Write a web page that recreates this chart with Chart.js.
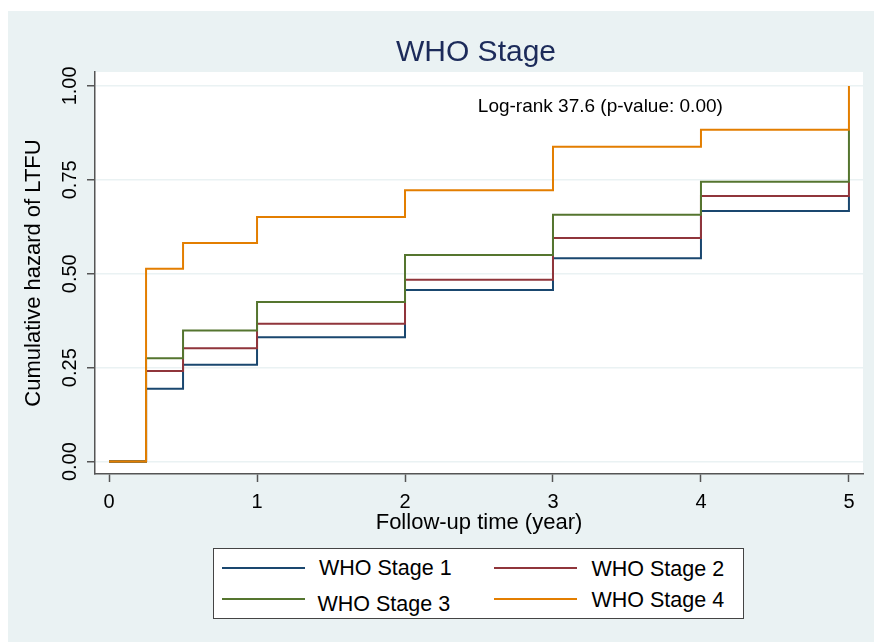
<!DOCTYPE html>
<html>
<head>
<meta charset="utf-8">
<script src="https://cdn.jsdelivr.net/npm/chart.js@4.4.1/dist/chart.umd.min.js"></script>
<style>
  html, body { margin: 0; padding: 0; background: #fff; }
  #wrap { position: relative; width: 874px; height: 642px; font-family: 'Liberation Sans', Arial, sans-serif; }
  #chart { position: absolute; left: 0; top: 0; }
  #title { position: absolute; left: 92px; width: 768px; top: 36px; text-align: center; font-size: 30px; line-height: 30px; color: #1c2b5a; }
  #legend { position: absolute; left: 213px; top: 548px; width: 531px; height: 71px; background: #fff; border: 1.5px solid #444; box-sizing: border-box; }
  .swatch { position: absolute; height: 2px; width: 83px; }
  .label { position: absolute; font-size: 21.5px; line-height: 21px; color: #000; white-space: nowrap; }
</style>
</head>
<body>
<div id="wrap">
  <canvas id="chart" width="874" height="642"></canvas>
  <div id="title">WHO Stage</div>
  <div id="legend"></div>
</div>
<script>
// follow-up times (years) where the step functions jump
const timePoints = [0, 0.25, 0.5, 1, 2, 3, 4, 5];

// cumulative hazard of LTFU
const stage1 = [0, 0.194, 0.258, 0.331, 0.457, 0.541, 0.667, 0.707];
const stage2 = [0, 0.241, 0.302, 0.367, 0.484, 0.595, 0.707, 0.745];
const stage3 = [0, 0.275, 0.349, 0.425, 0.550, 0.657, 0.745, 0.883];
const stage4 = [0, 0.513, 0.582, 0.651, 0.722, 0.838, 0.883, 1.000];

const seriesNames = ['WHO Stage 1', 'WHO Stage 2', 'WHO Stage 3', 'WHO Stage 4'];
const seriesColors = ['#1a476f', '#90353b', '#55752f', '#e37e00'];

const xTicks = [0, 1, 2, 3, 4, 5];
const xTickLabels = ['0', '1', '2', '3', '4', '5'];
const yTicks = [0, 0.25, 0.5, 0.75, 1];
const yTickLabels = ['0.00', '0.25', '0.50', '0.75', '1.00'];

const annotationText = 'Log-rank 37.6 (p-value: 0.00)';
const annotationAt = { x: 3.32, y: 0.945 };

const toPoints = vals => timePoints.map((t, i) => ({ x: t, y: vals[i] }));

const stataBackground = {
    id: 'stataBackground',
    beforeDraw(chart) {
        const { ctx, chartArea: a } = chart;
        ctx.save();
        ctx.fillStyle = '#ffffff';
        ctx.fillRect(0, 0, chart.width, chart.height);
        ctx.fillStyle = '#eaf2f3';
        ctx.fillRect(8, 11, chart.width - 8, chart.height - 11);
        ctx.fillStyle = '#ffffff';
        ctx.fillRect(a.left, a.top, a.right - a.left, a.bottom - a.top);
        ctx.restore();
    }
};

const logRankNote = {
    id: 'logRankNote',
    afterDatasetsDraw(chart) {
        const { ctx, scales } = chart;
        ctx.save();
        ctx.font = "19px 'Liberation Sans', Arial, sans-serif";
        ctx.fillStyle = '#000';
        ctx.textAlign = 'center';
        ctx.textBaseline = 'middle';
        ctx.fillText(annotationText, scales.x.getPixelForValue(annotationAt.x), scales.y.getPixelForValue(annotationAt.y));
        ctx.restore();
    }
};

const allSeries = [stage1, stage2, stage3, stage4];

new Chart(document.getElementById('chart'), {
    type: 'line',
    data: {
        datasets: allSeries.map((vals, i) => ({
            label: seriesNames[i],
            data: toPoints(vals),
            borderColor: seriesColors[i],
            borderWidth: 2,
            pointRadius: 0,
            stepped: true,
            fill: false,
            order: allSeries.length - 1 - i
        }))
    },
    options: {
        responsive: false,
        animation: false,
        layout: { padding: { top: 72, right: 11, bottom: 104, left: 0 } },
        plugins: {
            legend: { display: false },
            tooltip: { enabled: false },
            title: { display: false }
        },
        scales: {
            x: {
                type: 'linear',
                min: -0.095,
                max: 5.095,
                afterBuildTicks: s => { s.ticks = xTicks.map(v => ({ value: v })); },
                afterFit: s => { s.height = 64; },
                ticks: {
                    color: '#000',
                    font: { family: "'Liberation Sans', Arial, sans-serif", size: 20 },
                    padding: 8,
                    maxRotation: 0,
                    callback: (v) => xTickLabels[xTicks.indexOf(v)]
                },
                grid: { drawOnChartArea: false, drawTicks: true, tickLength: 8, tickColor: '#555', tickWidth: 1.5 },
                border: { display: true, color: '#555', width: 1.5 },
                title: {
                    display: true,
                    text: 'Follow-up time (year)',
                    color: '#000',
                    font: { family: "'Liberation Sans', Arial, sans-serif", size: 22 },
                    padding: { top: 0, bottom: 2 }
                }
            },
            y: {
                type: 'linear',
                min: -0.033,
                max: 1.037,
                afterBuildTicks: s => { s.ticks = yTicks.map(v => ({ value: v })); },
                afterFit: s => { s.width = 95; },
                ticks: {
                    color: '#000',
                    font: { family: "'Liberation Sans', Arial, sans-serif", size: 20 },
                    minRotation: 90,
                    maxRotation: 90,
                    crossAlign: 'center',
                    padding: -3,
                    callback: (v) => yTickLabels[yTicks.indexOf(v)]
                },
                grid: { color: '#eaf2f3', lineWidth: 1.5, drawTicks: true, tickLength: 8, tickColor: '#555', tickWidth: 1.5 },
                border: { display: true, color: '#555', width: 1.5 },
                title: {
                    display: true,
                    text: 'Cumulative hazard of LTFU',
                    color: '#000',
                    font: { family: "'Liberation Sans', Arial, sans-serif", size: 22 },
                    padding: { top: 21, bottom: 0 }
                }
            }
        }
    },
    plugins: [stataBackground, logRankNote]
});

// boxed two-column legend
const legendSlots = [
    { sx: 8, sy: 17.5, lx: 105, ly: 9 },
    { sx: 280, sy: 17.5, lx: 377.5, ly: 9.5 },
    { sx: 8, sy: 48.5, lx: 103.5, ly: 44.5 },
    { sx: 280, sy: 48.5, lx: 377.5, ly: 40.5 }
];
const legendEl = document.getElementById('legend');
seriesNames.forEach((name, i) => {
    const slot = legendSlots[i];
    const sw = document.createElement('div');
    sw.className = 'swatch';
    sw.style.left = slot.sx + 'px';
    sw.style.top = slot.sy + 'px';
    sw.style.background = seriesColors[i];
    legendEl.appendChild(sw);
    const lb = document.createElement('div');
    lb.className = 'label';
    lb.style.left = slot.lx + 'px';
    lb.style.top = slot.ly + 'px';
    lb.textContent = name;
    legendEl.appendChild(lb);
});
</script>
</body>
</html>
